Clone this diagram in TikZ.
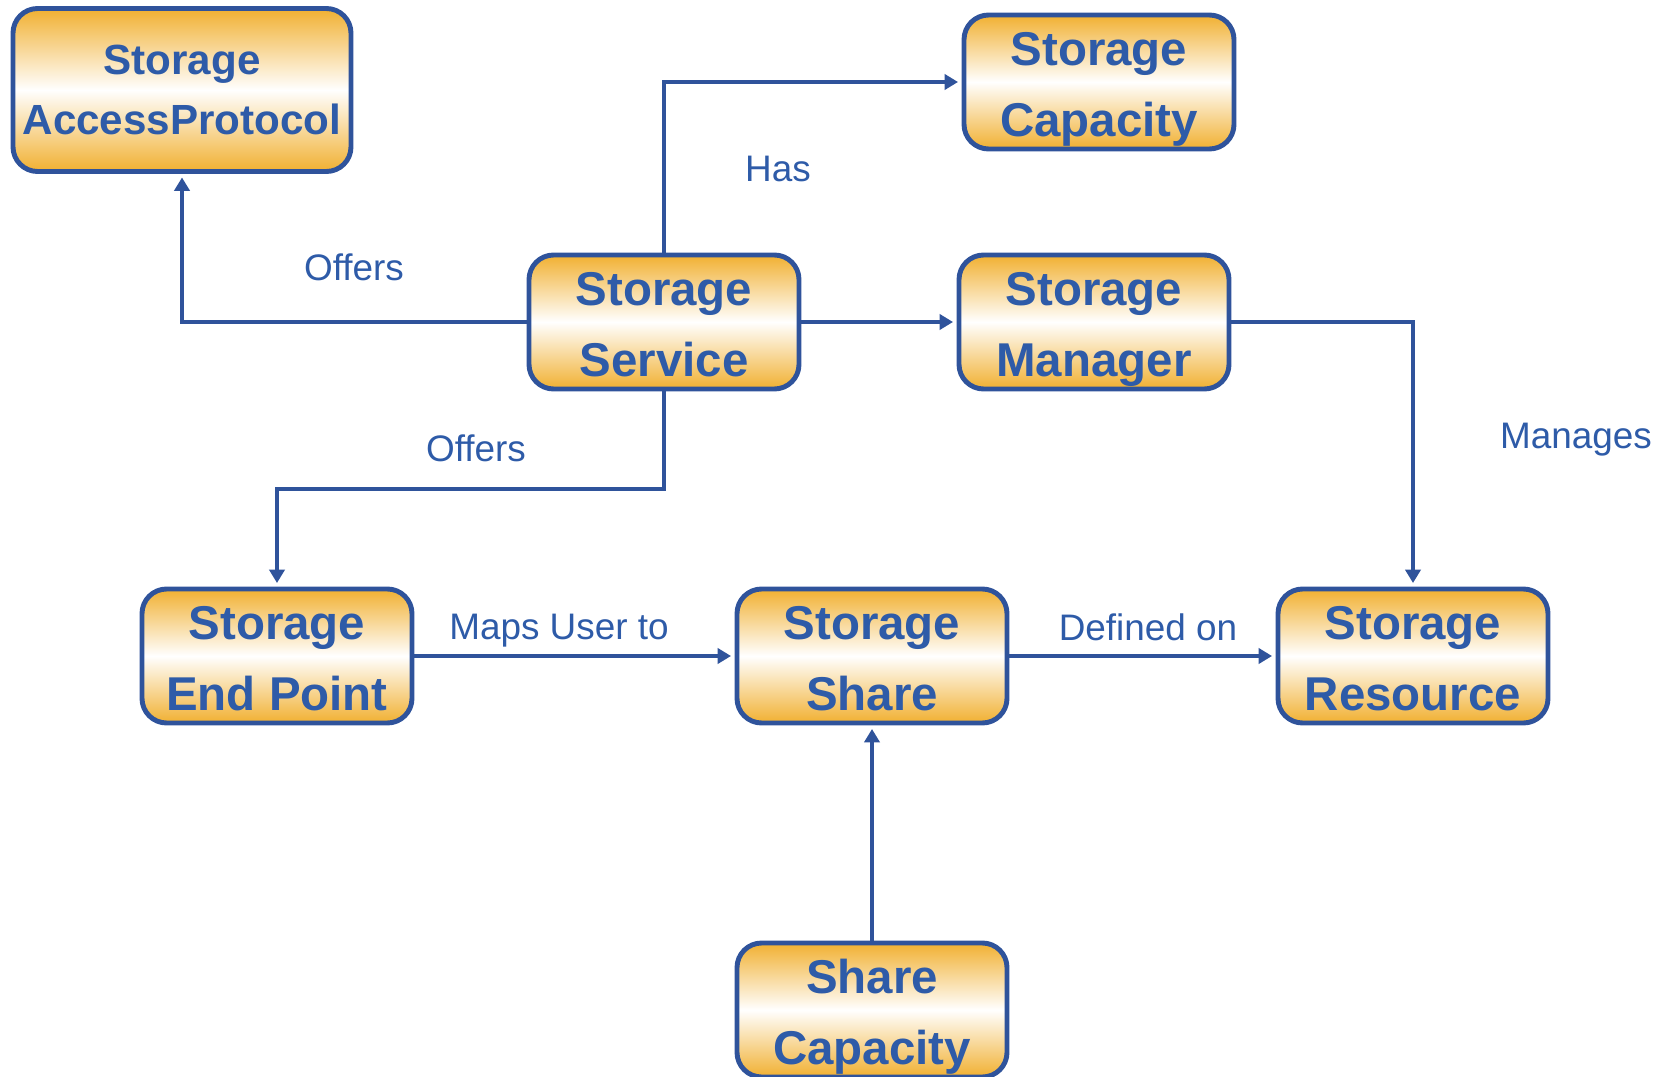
\documentclass[tikz,border=0pt]{standalone}
\usepackage{fontspec}
\setmainfont{Liberation Sans}
\usetikzlibrary{arrows.meta,positioning}
\definecolor{lineColor}{HTML}{2F539B}
\definecolor{textColor}{HTML}{2E5BA8}
\definecolor{boxColor}{HTML}{F1B031}
\tikzset{entity base/.style={draw=lineColor, line width=1.4pt, rounded corners=7pt,
    top color=boxColor, bottom color=boxColor, middle color=white,
    minimum width=2.7cm, minimum height=1.34cm, align=center,
    text=textColor, inner sep=0pt}}
\tikzset{entity/.style={entity base, font=\fontsize{13.5}{20}\selectfont\bfseries,
    text height=30.8pt, text depth=0pt}}
\tikzset{conn/.style={draw=lineColor, line width=1.1pt, -{Triangle[length=3.8pt,width=4.3pt]}, shorten >=1pt}}
\tikzset{rel label/.style={text=textColor, font=\fontsize{10.5}{12}\selectfont}}
\begin{document}
\begin{tikzpicture}
  \useasboundingbox (0,0) rectangle (16.66,10.76);
  \node[entity base, minimum width=3.38cm, minimum height=1.63cm, font=\fontsize{12}{17}\selectfont\bfseries] at (1.82,9.86) (sap) {Storage\\AccessProtocol};
  \node[entity] at (10.99,9.94) (scap) {Storage\\Capacity};
  \node[entity] at (6.64,7.54) (ssvc) {Storage\\Service};
  \node[entity] at (10.94,7.54) (smgr) {Storage\\Manager};
  \node[entity] at (2.77,4.20) (sep) {Storage\\End Point};
  \node[entity] at (8.72,4.20) (sshr) {Storage\\Share};
  \node[entity] at (14.13,4.20) (sres) {Storage\\Resource};
  \node[entity] at (8.72,0.66) (shcap) {Share\\Capacity};
  \coordinate (bend) at (6.64,5.87);
  \draw[conn] (ssvc.west) -| (sap.south);
  \draw[conn] (ssvc.north) |- (scap.west);
  \draw[conn] (ssvc.east) -- (smgr.west);
  \draw[conn] (ssvc.south) -- (bend) -| (sep.north);
  \draw[conn] (smgr.east) -| (sres.north);
  \draw[conn] (sep.east) -- (sshr.west);
  \draw[conn] (sshr.east) -- (sres.west);
  \draw[conn] (shcap.north) -- (sshr.south);
  \node[rel label] at (3.54,8.09) (l_offers1) {Offers};
  \node[rel label] at (7.78,9.07) (l_has) {Has};
  \node[rel label] at (4.76,6.28) (l_offers2) {Offers};
  \node[rel label] at (15.76,6.36) (l_manages) {Manages};
  \node[rel label] at (5.59,4.45) (l_maps) {Maps User to};
  \node[rel label] at (11.48,4.49) (l_defined) {Defined on};
\end{tikzpicture}
\end{document}
